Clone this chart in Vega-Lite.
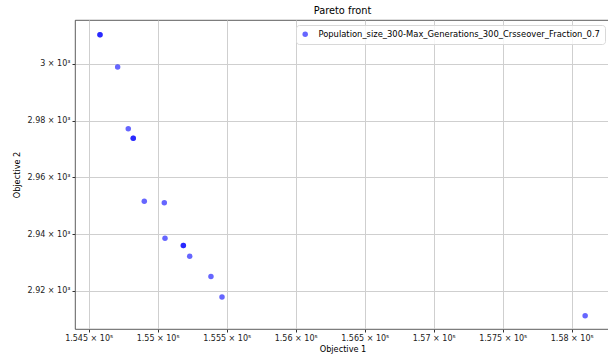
{
  "$schema": "https://vega.github.io/schema/vega-lite/v6.json",
  "autosize": {"type": "none"},
  "padding": {"left": 75, "top": 20, "right": 0, "bottom": 34},
  "width": 535,
  "height": 309,
  "background": "white",
  "title": {"text": "Pareto front", "fontSize": 9.8, "font": "DejaVu Sans", "fontWeight": "normal", "color": "#000", "offset": 4, "anchor": "middle"},
  "config": {
    "view": {"stroke": "#333", "strokeWidth": 0.8},
    "axis": {
      "labelFont": "DejaVu Sans", "labelFontSize": 8, "labelColor": "#222",
      "titleFont": "DejaVu Sans", "titleFontSize": 8.2, "titleFontWeight": "normal", "titleColor": "#000",
      "gridColor": "#cfcfcf", "gridWidth": 1, "domain": false,
      "tickColor": "#333", "tickSize": 3, "labelPadding": 2
    }
  },
  "data": {"values": [
    {"obj1": 154582, "obj2": 3010.3, "series": "Population_size_300-Max_Generations_300_Crsseover_Fraction_0.7"},
    {"obj1": 154582, "obj2": 3010.3, "series": "Population_size_300-Max_Generations_300_Crsseover_Fraction_0.7"},
    {"obj1": 154710, "obj2": 2998.9, "series": "Population_size_300-Max_Generations_300_Crsseover_Fraction_0.7"},
    {"obj1": 154787, "obj2": 2977.2, "series": "Population_size_300-Max_Generations_300_Crsseover_Fraction_0.7"},
    {"obj1": 154823, "obj2": 2973.8, "series": "Population_size_300-Max_Generations_300_Crsseover_Fraction_0.7"},
    {"obj1": 154823, "obj2": 2973.8, "series": "Population_size_300-Max_Generations_300_Crsseover_Fraction_0.7"},
    {"obj1": 154903, "obj2": 2951.6, "series": "Population_size_300-Max_Generations_300_Crsseover_Fraction_0.7"},
    {"obj1": 155048, "obj2": 2951.1, "series": "Population_size_300-Max_Generations_300_Crsseover_Fraction_0.7"},
    {"obj1": 155053, "obj2": 2938.6, "series": "Population_size_300-Max_Generations_300_Crsseover_Fraction_0.7"},
    {"obj1": 155186, "obj2": 2936.0, "series": "Population_size_300-Max_Generations_300_Crsseover_Fraction_0.7"},
    {"obj1": 155186, "obj2": 2936.0, "series": "Population_size_300-Max_Generations_300_Crsseover_Fraction_0.7"},
    {"obj1": 155232, "obj2": 2932.2, "series": "Population_size_300-Max_Generations_300_Crsseover_Fraction_0.7"},
    {"obj1": 155386, "obj2": 2925.1, "series": "Population_size_300-Max_Generations_300_Crsseover_Fraction_0.7"},
    {"obj1": 155466, "obj2": 2917.9, "series": "Population_size_300-Max_Generations_300_Crsseover_Fraction_0.7"},
    {"obj1": 158097, "obj2": 2911.3, "series": "Population_size_300-Max_Generations_300_Crsseover_Fraction_0.7"}
  ]},
  "mark": {"type": "circle", "size": 30, "opacity": 0.6, "clip": true},
  "encoding": {
    "x": {
      "field": "obj1", "type": "quantitative", "title": "Objective 1",
      "scale": {"domain": [154401, 158277], "nice": false, "zero": false},
      "axis": {"values": [154500, 155000, 155500, 156000, 156500, 157000, 157500, 158000],
               "labelExpr": "format(datum.value/100000, '.4~f') + ' × 10⁵'", "titlePadding": 3}
    },
    "y": {
      "field": "obj2", "type": "quantitative", "title": "Objective 2",
      "scale": {"domain": [2906.6, 3015.5], "nice": false, "zero": false},
      "axis": {"values": [2920, 2940, 2960, 2980, 3000],
               "labelExpr": "format(datum.value/1000, '.2~f') + ' × 10³'", "titlePadding": 6}
    },
    "color": {
      "field": "series", "type": "nominal",
      "scale": {"range": ["#0000ff"]},
      "legend": {
        "title": null, "orient": "top-right", "offset": 5,
        "labelFont": "DejaVu Sans", "labelFontSize": 8.4, "labelColor": "#000", "labelLimit": 600, "labelOffset": 9,
        "symbolType": "circle", "symbolSize": 30, "symbolOpacity": 0.6,
        "strokeColor": "#d8d8d8", "fillColor": "rgba(255,255,255,0.8)", "cornerRadius": 3,
        "padding": 5
      }
    }
  }
}
